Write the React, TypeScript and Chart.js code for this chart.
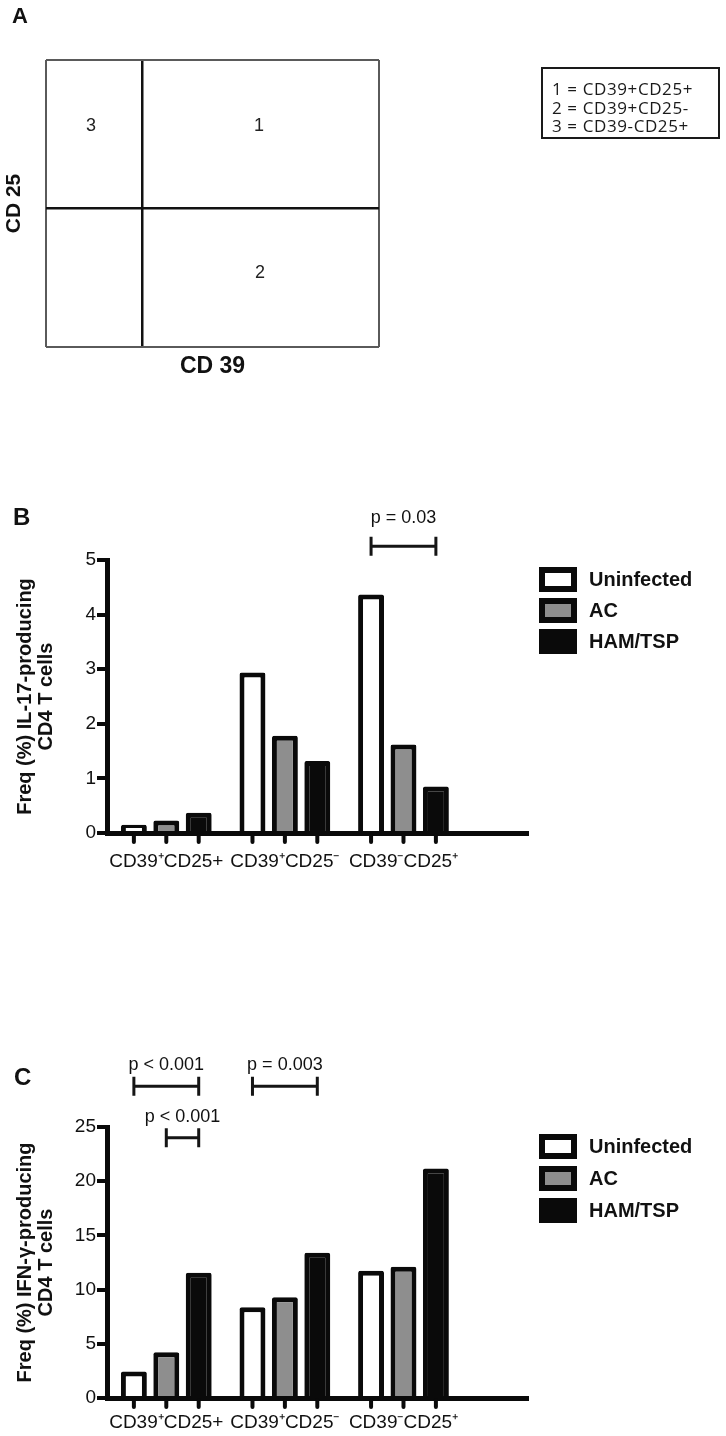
import React, { useEffect, useRef } from 'react';
import { Chart, registerables } from 'chart.js';

Chart.register(...registerables);

const FONT = "'Liberation Sans', Arial, Helvetica, sans-serif";
const INK = '#111111';

// ---------- Panel A : gating quadrants ----------
const gateCD39 = 29;
const gateCD25 = 48.4;
const quadrantNames = ['1', '2', '3'];
const quadrantX = [64, 64.3, 13.5];
const quadrantY = [77, 25.8, 77];
const quadrantKey = ['1 = CD39+CD25+', '2 = CD39+CD25-', '3 = CD39-CD25+'];

// ---------- Panels B & C : bar charts ----------
const groupLabels = ['CD39⁺CD25+', 'CD39⁺CD25⁻', 'CD39⁻CD25⁺'];
const seriesNames = ['Uninfected', 'AC', 'HAM/TSP'];
const seriesColors = ['#ffffff', '#8e8e8e', '#0a0a0a'];

const il17Uninfected = [0.15, 2.94, 4.37];
const il17AC = [0.23, 1.78, 1.62];
const il17HAM = [0.37, 1.32, 0.85];

const ifngUninfected = [2.45, 8.38, 11.75];
const ifngAC = [4.23, 9.3, 12.11];
const ifngHAM = [11.56, 13.4, 21.17];

const il17PLabels = ['p = 0.03'];
const il17PGroup = [2];
const il17PFrom = [0];
const il17PTo = [2];
const il17PLevel = [5.25];

const ifngPLabels = ['p < 0.001', 'p < 0.001', 'p = 0.003'];
const ifngPGroup = [0, 0, 1];
const ifngPFrom = [0, 1, 0];
const ifngPTo = [2, 2, 2];
const ifngPLevel = [28.75, 24, 28.75];

// ---------- plugins ----------
const quadrantLabelPlugin = {
  id: 'quadrantLabels',
  afterDatasetsDraw(chart: any) {
    const { ctx } = chart;
    const meta = chart.getDatasetMeta(0);
    ctx.save();
    ctx.font = `18px ${FONT}`;
    ctx.fillStyle = '#222';
    ctx.textAlign = 'center';
    ctx.textBaseline = 'middle';
    meta.data.forEach((el: any, i: number) => ctx.fillText(quadrantNames[i], el.x, el.y));
    ctx.restore();
  },
};

const barTickPlugin = {
  id: 'barTicks',
  afterDraw(chart: any) {
    const { ctx, chartArea } = chart;
    ctx.save();
    ctx.strokeStyle = '#0a0a0a';
    ctx.lineWidth = 4;
    ctx.lineCap = 'round';
    chart.data.datasets.forEach((_: any, i: number) => {
      chart.getDatasetMeta(i).data.forEach((el: any) => {
        ctx.beginPath();
        ctx.moveTo(el.x, chartArea.bottom + 2);
        ctx.lineTo(el.x, chartArea.bottom + 9);
        ctx.stroke();
      });
    });
    ctx.restore();
  },
};

const bracketPlugin = {
  id: 'pBrackets',
  afterDraw(chart: any, _args: any, opts: any) {
    if (!opts || !opts.labels) return;
    const { ctx } = chart;
    const yScale = chart.scales.y;
    ctx.save();
    ctx.strokeStyle = '#151515';
    ctx.fillStyle = INK;
    ctx.lineWidth = 3;
    ctx.font = `18px ${FONT}`;
    ctx.textAlign = 'center';
    ctx.textBaseline = 'alphabetic';
    for (let i = 0; i < opts.labels.length; i++) {
      const g = opts.groups[i];
      const x1 = chart.getDatasetMeta(opts.from[i]).data[g].x;
      const x2 = chart.getDatasetMeta(opts.to[i]).data[g].x;
      const yy = yScale.getPixelForValue(opts.levels[i]);
      ctx.beginPath();
      ctx.moveTo(x1, yy);
      ctx.lineTo(x2, yy);
      ctx.moveTo(x1, yy - 9.5);
      ctx.lineTo(x1, yy + 9.5);
      ctx.moveTo(x2, yy - 9.5);
      ctx.lineTo(x2, yy + 9.5);
      ctx.stroke();
      ctx.fillText(opts.labels[i], (x1 + x2) / 2, yy - opts.textGap);
    }
    ctx.restore();
  },
};

const boxLegendPlugin = {
  id: 'boxLegend',
  afterDraw(chart: any, _args: any, opts: any) {
    const { ctx, chartArea } = chart;
    const x0 = chartArea.right + opts.dx;
    let y0 = chartArea.top + opts.dy;
    ctx.save();
    ctx.font = `bold 20px ${FONT}`;
    ctx.textAlign = 'left';
    ctx.textBaseline = 'middle';
    chart.data.datasets.forEach((ds: any) => {
      ctx.fillStyle = ds.borderColor;
      ctx.fillRect(x0, y0, 38, 25);
      ctx.fillStyle = ds.backgroundColor;
      ctx.fillRect(x0 + 6, y0 + 6, 26, 13);
      ctx.fillStyle = INK;
      ctx.fillText(ds.label, x0 + 50, y0 + 13.5);
      y0 += opts.spacing;
    });
    ctx.restore();
  },
};

// ---------- configs ----------
function quadrantConfig() {
  const gridWidth = (gate: number) => (c: any) => (c.tick && c.tick.value === gate ? 2.5 : 2);
  const gridColor = (gate: number) => (c: any) => (c.tick && c.tick.value === gate ? '#111' : '#5a5a5a');
  return {
    type: 'scatter',
    data: {
      datasets: [
        {
          data: quadrantX.map((x, i) => ({ x, y: quadrantY[i] })),
          pointRadius: 0,
          pointHoverRadius: 0,
        },
      ],
    },
    options: {
      responsive: false,
      animation: false,
      events: [],
      layout: { padding: { top: 60, right: 347, bottom: 13, left: 0 } },
      plugins: { legend: { display: false }, tooltip: { enabled: false } },
      scales: {
        x: {
          type: 'linear',
          min: 0,
          max: 100,
          afterBuildTicks: (a: any) => {
            a.ticks = [0, gateCD39, 100].map((value) => ({ value }));
          },
          ticks: { display: false },
          grid: { drawTicks: false, lineWidth: gridWidth(gateCD39), color: gridColor(gateCD39) },
          border: { display: false },
          title: {
            display: true,
            text: 'CD 39',
            color: INK,
            font: { size: 23, weight: 'bold', family: FONT, lineHeight: 1.2 },
            padding: { top: 0, bottom: 7 },
          },
          afterFit: (s: any) => {
            s.height = 40;
          },
        },
        y: {
          type: 'linear',
          min: 0,
          max: 100,
          afterBuildTicks: (a: any) => {
            a.ticks = [0, gateCD25, 100].map((value) => ({ value }));
          },
          ticks: { display: false },
          grid: { drawTicks: false, lineWidth: gridWidth(gateCD25), color: gridColor(gateCD25) },
          border: { display: false },
          title: {
            display: true,
            text: 'CD 25',
            color: INK,
            font: { size: 21, weight: 'bold', family: FONT, lineHeight: 1.2 },
            padding: { top: 2, bottom: 0 },
          },
          afterFit: (s: any) => {
            s.width = 46;
          },
        },
      },
    },
    plugins: [quadrantLabelPlugin],
  };
}

type BarOpts = {
  series: number[][];
  yMax: number;
  yStep: number;
  yTitle: string[];
  padTop: number;
  padBottom: number;
  xHeight: number;
  xPad: number;
  legendSpacing: number;
  brackets: any;
};

function barConfig(o: BarOpts) {
  return {
    type: 'bar',
    data: {
      datasets: o.series.map((vals, i) => ({
        label: seriesNames[i],
        data: vals.map((y, g) => ({ x: g, y })),
        backgroundColor: seriesColors[i],
        borderColor: '#0a0a0a',
        borderWidth: 5,
        borderSkipped: 'start',
        borderRadius: 2,
        categoryPercentage: 0.82,
        barPercentage: 0.8,
      })),
    },
    options: {
      responsive: false,
      animation: false,
      events: [],
      layout: { padding: { top: o.padTop, right: 198, bottom: o.padBottom, left: 0 } },
      plugins: {
        legend: { display: false },
        tooltip: { enabled: false },
        pBrackets: o.brackets,
        boxLegend: { dx: 11, dy: 7, spacing: o.legendSpacing },
      },
      scales: {
        x: {
          type: 'linear',
          min: -0.5,
          max: 3.05,
          offset: false,
          afterBuildTicks: (a: any) => {
            a.ticks = groupLabels.map((_, value) => ({ value }));
          },
          ticks: {
            callback: (v: any) => groupLabels[v] ?? '',
            font: { size: 19, family: FONT },
            color: INK,
            padding: o.xPad,
            autoSkip: false,
            maxRotation: 0,
          },
          grid: { display: false, drawTicks: false, offset: false },
          border: { display: true, width: 5, color: '#0a0a0a', z: 1 },
          afterFit: (s: any) => {
            s.height = o.xHeight;
          },
        },
        y: {
          min: 0,
          max: o.yMax,
          ticks: { stepSize: o.yStep, font: { size: 19, family: FONT }, color: INK, padding: 1 },
          grid: { drawOnChartArea: false, drawTicks: true, tickLength: 10, lineWidth: 4, color: '#0a0a0a' },
          border: { display: true, width: 5, color: '#0a0a0a', z: 1 },
          title: {
            display: true,
            text: o.yTitle,
            color: INK,
            font: { size: 20, weight: 'bold', family: FONT, lineHeight: 1.05 },
            padding: { top: 14.5, bottom: 0 },
          },
          afterFit: (s: any) => {
            s.width = 107;
          },
        },
      },
    },
    plugins: [barTickPlugin, bracketPlugin, boxLegendPlugin],
  };
}

function ChartCanvas({ make, top, height }: { make: () => any; top: number; height: number }) {
  const ref = useRef<HTMLCanvasElement | null>(null);
  useEffect(() => {
    if (!ref.current) return;
    const chart = new Chart(ref.current, make());
    return () => chart.destroy();
  }, []);
  return (
    <canvas
      ref={ref}
      width={726}
      height={height}
      style={{ position: 'absolute', left: 0, top, width: 726, height, display: 'block' }}
    />
  );
}

const letterStyle = (left: number, top: number, size: number): React.CSSProperties => ({
  position: 'absolute',
  left,
  top,
  fontFamily: FONT,
  fontWeight: 'bold',
  fontSize: size,
  lineHeight: `${size}px`,
  color: INK,
});

export default function App() {
  return (
    <div style={{ position: 'absolute', left: 0, top: 0, width: 726, height: 1436, background: '#fff', overflow: 'hidden' }}>
      <ChartCanvas make={quadrantConfig} top={0} height={400} />
      <ChartCanvas
        top={490}
        height={400}
        make={() =>
          barConfig({
            series: [il17Uninfected, il17AC, il17HAM],
            yMax: 5,
            yStep: 1,
            yTitle: ['Freq (%) IL-17-producing', 'CD4 T cells'],
            padTop: 70,
            padBottom: 7,
            xHeight: 50,
            xPad: 17,
            legendSpacing: 31,
            brackets: { labels: il17PLabels, groups: il17PGroup, from: il17PFrom, to: il17PTo, levels: il17PLevel, textGap: 23 },
          })
        }
      />
      <ChartCanvas
        top={1040}
        height={396}
        make={() =>
          barConfig({
            series: [ifngUninfected, ifngAC, ifngHAM],
            yMax: 25,
            yStep: 5,
            yTitle: ['Freq (%) IFN-γ-producing', 'CD4 T cells'],
            padTop: 87,
            padBottom: 2,
            xHeight: 36,
            xPad: 13.5,
            legendSpacing: 32,
            brackets: { labels: ifngPLabels, groups: ifngPGroup, from: ifngPFrom, to: ifngPTo, levels: ifngPLevel, textGap: 16 },
          })
        }
      />
      <div style={letterStyle(12, 5, 22)}>A</div>
      <div style={letterStyle(13, 505, 24)}>B</div>
      <div style={letterStyle(14, 1065, 24)}>C</div>
      <div
        style={{
          position: 'absolute',
          left: 541,
          top: 67,
          width: 179,
          height: 72,
          boxSizing: 'border-box',
          border: '2px solid #1a1a1a',
          paddingLeft: 9,
          paddingTop: 11,
          fontFamily: "'Open Sans', 'Noto Sans', sans-serif",
          fontSize: 17,
          lineHeight: '18.5px',
          letterSpacing: '0.6px',
          color: '#1a1a1a',
          whiteSpace: 'nowrap',
        }}
      >
        {quadrantKey.map((t) => (
          <div key={t}>{t}</div>
        ))}
      </div>
    </div>
  );
}
